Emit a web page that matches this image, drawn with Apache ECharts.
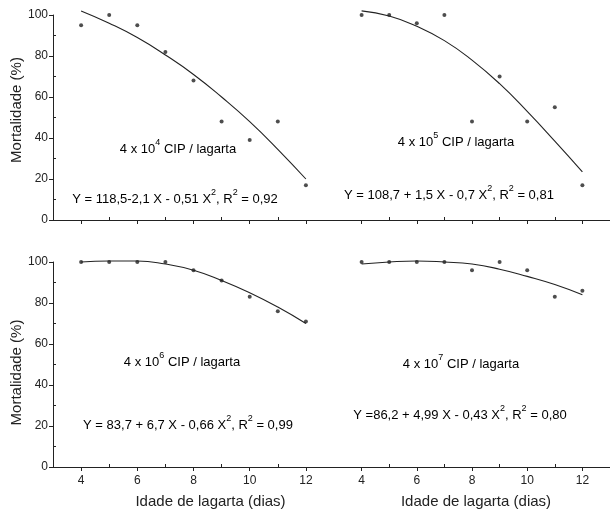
<!DOCTYPE html>
<html>
<head>
<meta charset="utf-8">
<script src="https://cdn.jsdelivr.net/npm/echarts@6/dist/echarts.min.js"></script>
<style>
  html, body { margin: 0; padding: 0; background: #fff; }
  #chart { width: 610px; height: 515px; }
</style>
</head>
<body>
<div id="chart"></div>
<script>
// idade da lagarta (dias)
const days = [4, 5, 6, 7, 8, 9, 10, 11, 12];

// mortalidade observada (%) e curva ajustada, por concentração
const obs4 = [95, 100, 95, 82, 68, 48, 39, 48, 17];
const fit4 = [102, 96, 89, 80.5, 71, 60, 48, 34.5, 20];
const obs5 = [100, 100, 96, 100, 48, 70, 48, 55, 17];
const fit5 = [102, 99.5, 94.5, 87.5, 78, 66.5, 53, 38.5, 23.5];
const obs6 = [100, 100, 100, 100, 96, 91, 83, 76, 71];
const fit6 = [100, 100.5, 100.5, 99, 96, 91, 85, 78, 70];
const obs7 = [100, 100, 100, 100, 96, 100, 96, 83, 86];
const fit7 = [99, 100, 100.5, 100, 99, 96.5, 93, 89, 84];

const xMajorTicks = [4, 6, 8, 10, 12];
const xMinorTicks = [5, 7, 9, 11];
const yMinorTicks = [10, 30, 50, 70, 90];

const panelLabels = ['4', '5', '6', '7'];
const equations = [
    ['Y = 118,5-2,1 X - 0,51 X', ', R', ' = 0,92'],
    ['Y = 108,7 + 1,5 X - 0,7 X', ', R', ' = 0,81'],
    ['Y = 83,7 + 6,7 X - 0,66 X', ', R', ' = 0,99'],
    ['Y =86,2 + 4,99 X - 0,43 X', ', R', ' = 0,80']
];

const FONT = "'Liberation Sans', Arial, sans-serif";
const INK = '#222';

const myChart = echarts.init(document.getElementById('chart'));

const grids = [
    { left: 53, top: 15, width: 281, height: 205 },
    { left: 334, top: 15, width: 281, height: 205 },
    { left: 53, top: 262, width: 281, height: 205 },
    { left: 334, top: 262, width: 281, height: 205 }
];

const xAxes = [];
const yAxes = [];
grids.forEach(function(g, i) {
    const bottomRow = i >= 2;
    const leftCol = i % 2 === 0;
    xAxes.push({
        type: 'value', gridIndex: i, min: 3, max: 13, position: 'bottom',
        axisLine: { show: true, lineStyle: { color: INK, width: 1 } },
        axisTick: { show: true, length: 4, customValues: xMajorTicks, lineStyle: { color: INK } },
        axisLabel: {
            show: bottomRow, customValues: xMajorTicks, margin: 8,
            color: INK, fontFamily: FONT, fontSize: 12
        },
        splitLine: { show: false },
        name: bottomRow ? 'Idade de lagarta (dias)' : '',
        nameLocation: 'middle', nameGap: 27,
        nameTextStyle: {
            color: INK, fontFamily: FONT, fontSize: 15,
            padding: leftCol ? [0, 0, 0, 34] : [0, 0, 0, 8]
        }
    });
    xAxes.push({
        type: 'value', gridIndex: i, min: 3, max: 13, position: 'bottom',
        axisLine: { show: false },
        axisTick: { show: true, inside: true, length: 3, customValues: xMinorTicks, lineStyle: { color: INK } },
        axisLabel: { show: false },
        splitLine: { show: false }
    });
    yAxes.push({
        type: 'value', gridIndex: i, min: 0, max: 100, interval: 20, position: 'left',
        show: leftCol,
        axisLine: { show: true, lineStyle: { color: INK, width: 1 } },
        axisTick: { show: true, length: 4, lineStyle: { color: INK } },
        axisLabel: { margin: 5, color: INK, fontFamily: FONT, fontSize: 12 },
        splitLine: { show: false },
        name: 'Mortalidade (%)',
        nameLocation: 'middle', nameGap: 29, nameRotate: 90,
        nameTextStyle: {
            color: INK, fontFamily: FONT, fontSize: 15,
            padding: bottomRow ? [0, 16, 0, 0] : [0, 0, 0, 15]
        }
    });
    yAxes.push({
        type: 'value', gridIndex: i, min: 0, max: 100, position: 'left',
        show: leftCol,
        axisLine: { show: false },
        axisTick: { show: true, inside: true, length: 3, customValues: yMinorTicks, lineStyle: { color: INK } },
        axisLabel: { show: false },
        splitLine: { show: false }
    });
});

const obsSets = [obs4, obs5, obs6, obs7];
const fitSets = [fit4, fit5, fit6, fit7];
const series = [];
obsSets.forEach(function(obs, i) {
    series.push({
        type: 'line', xAxisIndex: i * 2, yAxisIndex: i * 2,
        data: days.map(function(d, k) { return [d, fitSets[i][k]]; }),
        smooth: 0.5, showSymbol: false, clip: false, silent: true,
        lineStyle: { color: INK, width: 1.1 }
    });
    series.push({
        type: 'scatter', xAxisIndex: i * 2, yAxisIndex: i * 2,
        data: days.map(function(d, k) { return [d, obs[k]]; }),
        symbol: 'circle', symbolSize: 4, clip: false, silent: true,
        itemStyle: { color: INK }
    });
});

const richStyles = {
    n: { fontSize: 13, fontFamily: FONT, color: INK, verticalAlign: 'bottom', lineHeight: 18 },
    s: { fontSize: 9, fontFamily: FONT, color: INK, verticalAlign: 'top', lineHeight: 18 }
};

// posições das anotações em cada painel
const labelPos = [[178, 147], [456, 140], [182, 360], [461, 362]];
const eqPos = [[175, 197], [449, 193], [188, 423], [460, 413]];

const graphics = [];
panelLabels.forEach(function(p, i) {
    graphics.push({
        type: 'text', x: labelPos[i][0], y: labelPos[i][1], silent: true,
        style: {
            text: '{n|4 x 10}{s|' + p + '}{n| CIP / lagarta}',
            rich: richStyles, align: 'center', verticalAlign: 'middle'
        }
    });
    const e = equations[i];
    graphics.push({
        type: 'text', x: eqPos[i][0], y: eqPos[i][1], silent: true,
        style: {
            text: '{n|' + e[0] + '}{s|2}{n|' + e[1] + '}{s|2}{n|' + e[2] + '}',
            rich: richStyles, align: 'center', verticalAlign: 'middle'
        }
    });
});

myChart.setOption({
    backgroundColor: '#fff',
    animation: false,
    grid: grids,
    xAxis: xAxes,
    yAxis: yAxes,
    series: series,
    graphic: graphics
});
</script>
</body>
</html>
